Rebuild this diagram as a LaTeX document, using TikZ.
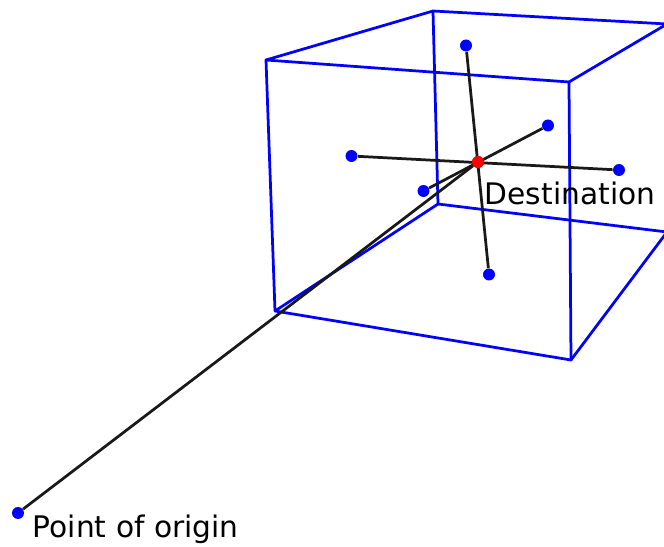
\documentclass[tikz,border=0pt]{standalone}
\usepackage{fontspec}
\setmainfont{DejaVu Sans}
\usepackage{tikz}

\begin{document}
\begin{tikzpicture}[x=0.02cm,y=-0.02cm,
    edge/.style={blue,line width=0.055cm,line join=round},
    spoke/.style={black!90,line width=0.055cm},
    bluedot/.style={circle,fill=blue,inner sep=0pt,minimum size=0.24cm},
    reddot/.style={circle,fill=red,inner sep=0pt,minimum size=0.24cm},
    caption/.style={anchor=base west,inner sep=0pt,font=\fontsize{16.9}{20}\selectfont}]
    \useasboundingbox (0,0) rectangle (664,547);
    \clip (0,0) rectangle (664,547);

    % corners of the box
    \coordinate (ftl) at (266,60);
    \coordinate (ftr) at (569,82);
    \coordinate (fbr) at (571,360);
    \coordinate (fbl) at (275,311);
    \coordinate (btl) at (433,11);
    \coordinate (btr) at (667,24);
    \coordinate (bbr) at (667,232);
    \coordinate (bbl) at (438,204);

    \draw[edge] (ftl) -- (ftr) -- (fbr) -- (fbl) -- cycle;
    \draw[edge] (btr) -- (btl) -- (bbl) -- (bbr);
    \draw[edge] (ftl) -- (btl);
    \draw[edge] (ftr) -- (btr);
    \draw[edge] (fbr) -- (bbr);
    \draw[edge] (fbl) -- (bbl);

    % points
    \node[reddot] (dest) at (478,162) {};
    \node[bluedot] (top) at (466,45.5) {};
    \node[bluedot] (bottom) at (489,274.5) {};
    \node[bluedot] (left) at (351.5,156) {};
    \node[bluedot] (right) at (619,170) {};
    \node[bluedot] (far) at (548,125.5) {};
    \node[bluedot] (near) at (423.5,191) {};
    \node[bluedot] (origin) at (18,513) {};

    \draw[spoke] (top) -- (bottom);
    \draw[spoke] (left) -- (right);
    \draw[spoke] (far) -- (near);
    \draw[spoke] (origin) -- (dest);
    \node[reddot] at (dest) {};

    \node[caption] (destlabel) at (484.5,205) {Destination};
    \node[caption] (originlabel) at (32.5,538) {Point of origin};
\end{tikzpicture}
\end{document}
